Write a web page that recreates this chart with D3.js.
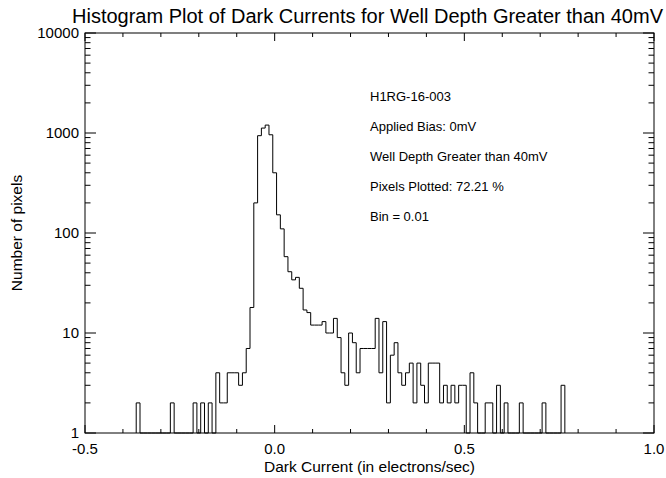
<!DOCTYPE html>
<html>
<head>
<meta charset="utf-8">
<script src="https://cdn.jsdelivr.net/npm/d3@7"></script>
<style>
  html, body { margin: 0; padding: 0; background: #fff; }
  svg { display: block; }
  text { font-family: "Liberation Sans", Arial, Helvetica, sans-serif; fill: #000; }
</style>
</head>
<body>
<svg id="chart" width="666" height="478"></svg>
<script>
// Histogram bins: centres (electrons/sec) and pixel counts, bin width 0.01
const binWidth = 0.01;
const binCenters = d3.range(0, 113).map(i => Math.round((-0.36 + i * 0.01) * 100) / 100);
const binCounts = [
  2, 0, 0, 0, 0, 0, 0, 0, 0, 2,          // -0.36 .. -0.27
  0, 0, 0, 0, 0, 2, 0, 2, 0, 2,          // -0.26 .. -0.17
  0, 4, 2, 2, 4, 4, 4, 3, 4, 7,          // -0.16 .. -0.07
  18, 200, 940, 1120, 1200, 960, 400, 152, 110, 58,   // -0.06 .. 0.03
  41, 34, 36, 28, 17, 16, 12, 12, 12, 13,             // 0.04 .. 0.13
  10, 10, 14, 9, 4, 3, 10, 8, 4, 7,                   // 0.14 .. 0.23
  7, 7, 7, 14, 4, 13, 2, 6, 8, 4,                     // 0.24 .. 0.33
  3, 4, 5, 2, 5, 3, 2, 5, 5, 5,                       // 0.34 .. 0.43
  2, 3, 2, 3, 2, 3, 3, 0, 4, 2,                       // 0.44 .. 0.53
  0, 0, 2, 2, 0, 3, 0, 2, 0, 0,                       // 0.54 .. 0.63
  0, 2, 0, 0, 0, 0, 0, 2, 0, 0,                       // 0.64 .. 0.73
  0, 0, 3                                             // 0.74 .. 0.76
];

// Axis ticks and labels
const xMajorTicks = [-0.5, 0.0, 0.5, 1.0];
const xMajorLabels = ["-0.5", "0.0", "0.5", "1.0"];
const yMajorTicks = [1, 10, 100, 1000, 10000];
const yMajorLabels = ["1", "10", "100", "1000", "10000"];

const titleText = "Histogram Plot of Dark Currents for Well Depth Greater than 40mV";
const xTitle = "Dark Current (in electrons/sec)";
const yTitle = "Number of pixels";
const notes = [
  "H1RG-16-003",
  "Applied Bias: 0mV",
  "Well Depth Greater than 40mV",
  "Pixels Plotted: 72.21 %",
  "Bin = 0.01"
];

const svg = d3.select("#chart");
const plot = { left: 85, right: 654, top: 33, bottom: 433 };

const x = d3.scaleLinear().domain([-0.5, 1.0]).range([plot.left, plot.right]);
const y = d3.scaleLog().domain([1, 10000]).range([plot.bottom, plot.top]);

// minor ticks
const xMinor = d3.range(-5, 11).map(i => i / 10).filter(v => !xMajorTicks.some(m => Math.abs(m - v) < 1e-9));
const yMinor = [];
[1, 10, 100, 1000].forEach(d => { for (let m = 2; m <= 9; m++) yMinor.push(d * m); });

const xLenMajor = 8, xLenMinor = 4, yLenMajor = 11, yLenMinor = 5.5;

const g = svg.append("g").attr("stroke", "#000").attr("stroke-width", 1).attr("fill", "none");

// frame
g.append("rect")
  .attr("x", plot.left).attr("y", plot.top)
  .attr("width", plot.right - plot.left).attr("height", plot.bottom - plot.top);

// x ticks (bottom and top)
function xTick(v, len) {
  g.append("line").attr("x1", x(v)).attr("x2", x(v)).attr("y1", plot.bottom).attr("y2", plot.bottom - len);
  g.append("line").attr("x1", x(v)).attr("x2", x(v)).attr("y1", plot.top).attr("y2", plot.top + len);
}
xMajorTicks.forEach(v => xTick(v, xLenMajor));
xMinor.forEach(v => xTick(v, xLenMinor));

// y ticks (left and right)
function yTick(v, len) {
  g.append("line").attr("x1", plot.left).attr("x2", plot.left + len).attr("y1", y(v)).attr("y2", y(v));
  g.append("line").attr("x1", plot.right).attr("x2", plot.right - len).attr("y1", y(v)).attr("y2", y(v));
}
yMajorTicks.forEach(v => yTick(v, yLenMajor));
yMinor.forEach(v => yTick(v, yLenMinor));

// histogram step outline
const pts = [];
const c0 = binCenters[0] - binWidth / 2;
pts.push([x(c0), y(1)]);
binCenters.forEach((c, i) => {
  const v = Math.max(1, binCounts[i]);
  pts.push([x(c - binWidth / 2), y(v)]);
  pts.push([x(c + binWidth / 2), y(v)]);
});
pts.push([x(binCenters[binCenters.length - 1] + binWidth / 2), y(1)]);
g.append("path").attr("d", d3.line()(pts));

// tick labels and axis titles
const t = svg.append("g").attr("font-size", 15);
xMajorTicks.forEach((v, i) => {
  t.append("text").attr("x", x(v)).attr("y", 454).attr("text-anchor", "middle").text(xMajorLabels[i]);
});
yMajorTicks.forEach((v, i) => {
  t.append("text").attr("x", 79).attr("y", y(v) + 4.5).attr("text-anchor", "end").text(yMajorLabels[i]);
});

t.append("text").attr("x", (plot.left + plot.right) / 2).attr("y", 472)
  .attr("text-anchor", "middle").attr("font-size", 15.5).text(xTitle);
t.append("text").attr("transform", `translate(22,${(plot.top + plot.bottom) / 2}) rotate(-90)`)
  .attr("text-anchor", "middle").attr("font-size", 15.5).text(yTitle);

// title
svg.append("text").attr("x", (plot.left + plot.right) / 2 - 2).attr("y", 23)
  .attr("text-anchor", "middle").attr("font-size", 20).text(titleText);

// annotation block
const n = svg.append("g").attr("font-size", 13);
notes.forEach((s, i) => {
  n.append("text").attr("x", 370).attr("y", 101 + i * 30).text(s);
});
</script>
</body>
</html>
